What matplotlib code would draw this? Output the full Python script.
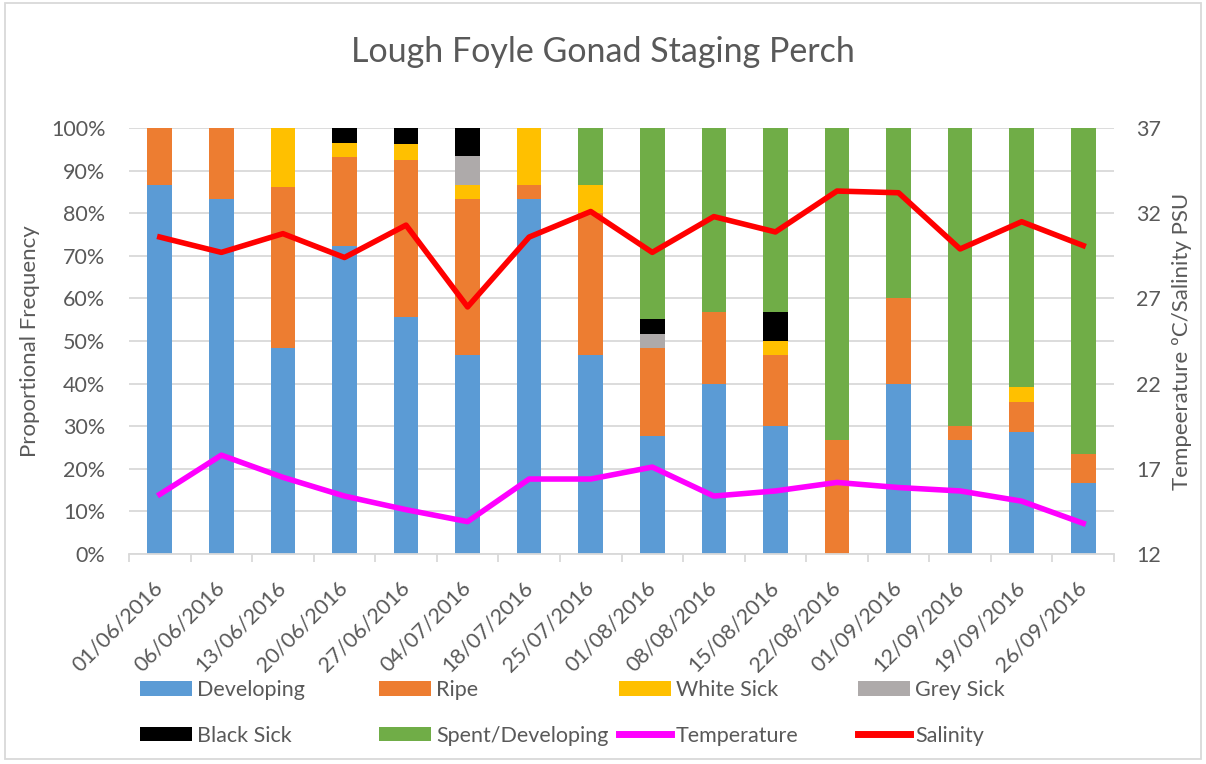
import matplotlib
matplotlib.use("Agg")
import matplotlib.pyplot as plt
from matplotlib.patches import Rectangle, Patch
from matplotlib.lines import Line2D

plt.rcParams['font.family'] = ['Lato', 'DejaVu Sans']

dates = ["01/06/2016", "06/06/2016", "13/06/2016", "20/06/2016", "27/06/2016",
         "04/07/2016", "18/07/2016", "25/07/2016", "01/08/2016", "08/08/2016",
         "15/08/2016", "22/08/2016", "01/09/2016", "12/09/2016", "19/09/2016",
         "26/09/2016"]

# stage proportions, percent
developing = [86.7, 83.3, 48.3, 72.4, 55.6, 46.7, 83.3, 46.7, 27.6, 40.0, 30.0, 0.0, 40.0, 26.7, 28.6, 16.7]
ripe = [13.3, 16.7, 37.9, 20.7, 37.0, 36.7, 3.3, 33.3, 20.7, 16.7, 16.7, 26.7, 20.0, 3.3, 7.1, 6.7]
white_sick = [0, 0, 13.8, 3.4, 3.7, 3.3, 13.4, 6.7, 0, 0, 3.3, 0, 0, 0, 3.6, 0]
grey_sick = [0, 0, 0, 0, 0, 6.7, 0, 0, 3.4, 0, 0, 0, 0, 0, 0, 0]
black_sick = [0, 0, 0, 3.5, 3.7, 6.6, 0, 0, 3.5, 0, 6.7, 0, 0, 0, 0, 0]
spent = [0, 0, 0, 0, 0, 0, 0, 13.3, 44.8, 43.3, 43.3, 73.3, 40.0, 70.0, 60.7, 76.6]

temperature = [15.5, 17.8, 16.5, 15.4, 14.6, 13.9, 16.4, 16.4, 17.1, 15.4, 15.7, 16.2, 15.9, 15.7, 15.1, 13.8]
salinity = [30.6, 29.7, 30.8, 29.4, 31.3, 26.5, 30.6, 32.1, 29.7, 31.8, 30.9, 33.3, 33.2, 29.9, 31.5, 30.1]

text_col = "#595959"
grid_col = "#d9d9d9"

fig = plt.figure(figsize=(12.06, 7.64), dpi=100)
ax = fig.add_axes([129 / 1206, 1 - 554 / 764, (1114 - 129) / 1206, (554 - 128) / 764])

x = list(range(len(dates)))
stages = [("Developing", developing, "#5B9BD5"),
          ("Ripe", ripe, "#ED7D31"),
          ("White Sick", white_sick, "#FFC000"),
          ("Grey Sick", grey_sick, "#AEAAAA"),
          ("Black Sick", black_sick, "#000000"),
          ("Spent/Developing", spent, "#70AD47")]

bottom = [0.0] * len(dates)
handles = []
for name, vals, col in stages:
    ax.bar(x, vals, 0.4, bottom=bottom, color=col, zorder=2)
    bottom = [b + v for b, v in zip(bottom, vals)]
    handles.append(Patch(facecolor=col, label=name))

ax.set_xlim(-0.5, len(dates) - 0.5)
ax.set_ylim(0, 100)
ax.set_yticks(range(0, 101, 10))
ax.set_yticklabels([f"{v}%" for v in range(0, 101, 10)])
ax.yaxis.grid(True, color=grid_col, lw=1.3)
ax.set_axisbelow(True)
for s in ["top", "left", "right"]:
    ax.spines[s].set_visible(False)
ax.spines["bottom"].set_color(grid_col)
ax.spines["bottom"].set_linewidth(1.3)

ax.set_xticks(x)
ax.set_xticklabels(dates, rotation=45, ha="right", va="center", rotation_mode="anchor")
ax.set_xticks([i - 0.5 for i in range(len(dates) + 1)], minor=True)
ax.tick_params(axis="x", which="major", length=0, pad=22, labelsize=15.5, labelcolor=text_col)
ax.tick_params(axis="x", which="minor", length=6, color=grid_col, width=1.3)
ax.tick_params(axis="y", length=0, pad=17, labelsize=15.5, labelcolor=text_col)
ax.set_ylabel("Proportional Frequency", fontsize=16, color=text_col, labelpad=8)

ax2 = ax.twinx()
ax2.plot(x, temperature, color="#FF00FF", lw=4, zorder=3)
ax2.plot(x, salinity, color="#FF0000", lw=4, zorder=3)
ax2.set_ylim(12, 37)
ax2.set_yticks(range(12, 38, 5))
ax2.tick_params(axis="y", length=0, pad=16, labelsize=15.5, labelcolor=text_col)
for s in ["top", "left", "right", "bottom"]:
    ax2.spines[s].set_visible(False)
ax2.set_ylabel("Tempeerature ºC/Salinity PSU", fontsize=16, color=text_col, labelpad=8)

handles.append(Line2D([0], [0], color="#FF00FF", lw=5))
handles.append(Line2D([0], [0], color="#FF0000", lw=5))
labels = [h.get_label() for h in handles[:6]] + ["Temperature", "Salinity"]

# four legend columns, two rows each
col_x = [140, 379, 619, 858]
for c in range(4):
    fig.legend([handles[c], handles[c + 4]], [labels[c], labels[c + 4]],
               loc="upper left", bbox_to_anchor=(col_x[c] / 1206, 1 - 680 / 764),
               frameon=False, fontsize=15.5, labelcolor=text_col,
               handlelength=2.4, handleheight=0.65, handletextpad=0.25,
               labelspacing=1.2, borderpad=0, borderaxespad=0)

fig.text(0.5, 1 - 52 / 764, "Lough Foyle Gonad Staging Perch", ha="center", va="center",
         fontsize=24.5, color=text_col)

fig.patches.append(Rectangle((0.004, 0.006), 0.992, 0.99, transform=fig.transFigure,
                             fill=False, edgecolor=grid_col, lw=1.3))

fig.savefig("out.png", dpi=100)
